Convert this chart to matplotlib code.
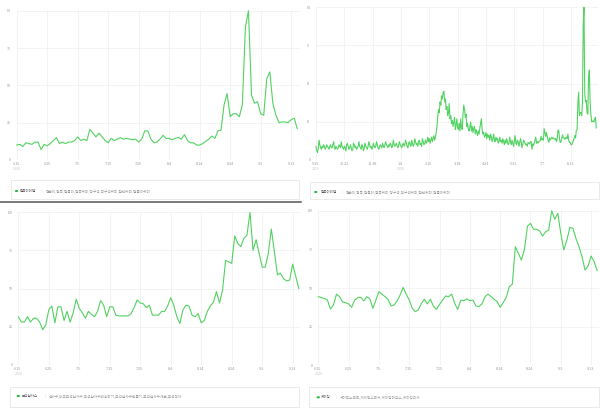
import numpy as np
import pandas as pd
import matplotlib
matplotlib.use('Agg')
import matplotlib.pyplot as plt
import matplotlib.dates as mdates
from matplotlib.patches import Rectangle, Circle
from matplotlib.lines import Line2D
from matplotlib.transforms import Bbox, TransformedBbox

plt.rcParams['font.family'] = ['Noto Sans CJK KR', 'DejaVu Sans']

# ---- data ----
home_label = '집콕아이템'
home_keywords = '집순이,집콕,집돌이,집콕취미,방구석,방구석취미,집안취미,집돌이취미'
home_recent = [
    10, 10.5, 9, 11.5, 11, 10.5, 12, 12, 7, 10.5,
    9.5, 11, 13, 15, 11, 12, 11, 12, 12, 13,
    15.5, 13, 14, 13, 20.5, 18, 15.5, 18, 15.5, 13,
    11.5, 14.5, 13, 14, 15, 14, 14.5, 14, 13.5, 14,
    12, 14, 19.5, 19.5, 14, 11.5, 12, 14, 16.5, 14.5,
    14.5, 13.5, 14.5, 15, 14, 17, 13, 11.5, 11.5, 10,
    10, 11, 12.5, 14, 16, 14.5, 19.5, 20, 37, 44.5,
    29, 31, 31, 29, 37, 89, 100, 43.5, 38, 39,
    31, 30, 54.5, 59, 38, 30, 25, 25.5, 25.5, 25,
    27, 28, 21,
]
# 2019-09-15 .. 2020-06-14, daily
home_year_early = [
    9, 6, 5, 8, 13, 10, 8,
    7, 9, 8, 10, 9, 7, 8,
    10, 9, 8, 7, 9, 10, 8,
    8, 10, 12, 8, 7, 9, 8,
    7, 8, 10, 9, 8, 12, 9,
    8, 7, 9, 8, 6, 10, 11,
    9, 7, 8, 10, 8, 6, 7,
    11, 10, 8, 9, 7, 8, 9,
    12, 9, 8, 7, 10, 9, 6,
    8, 11, 9, 8, 7, 9, 12,
    10, 8, 9, 7, 8, 11, 9,
    8, 9, 12, 10, 8, 7, 9,
    10, 9, 8, 11, 9, 8, 10,
    12, 10, 9, 8, 10, 9, 11,
    10, 8, 9, 13, 10, 9, 10,
    11, 9, 8, 10, 12, 10, 9,
    8, 10, 11, 9, 10, 13, 11,
    9, 8, 11, 12, 10, 9, 13,
    11, 9, 10, 14, 12, 10, 11,
    9, 12, 13, 10, 11, 9, 14,
    12, 10, 11, 13, 11, 12, 15,
    12, 14, 11, 13, 15, 12, 14, 16, 13, 15,
    18, 22, 28, 33, 31, 38, 36, 42, 40, 44,
    45, 38, 40, 33, 35, 29, 31, 37, 27, 29,
    24, 26, 22, 25, 28, 20, 23, 27, 21, 20,
    24, 19, 27, 21, 20, 30, 36, 33, 28, 30,
    22, 24, 20, 19, 22, 25, 19, 22, 18, 21,
    22, 17, 20, 18, 16, 19, 17, 21, 24, 27,
    20, 17, 18, 15, 16, 18, 14, 17, 15, 16,
    13, 17, 15, 12, 14, 17, 13, 12, 15, 13,
    14, 11, 12, 15, 12, 13, 11, 14, 12, 10,
    13, 11, 14, 12, 10, 11, 15, 12, 10, 13,
    11, 9, 12, 16, 11, 10, 13, 12, 9, 11,
    14, 12, 8, 10, 13, 12, 11,
]
home_year = home_year_early + home_recent

gem_label = '보석십자수'
gem_keywords = '십자수,비즈보석십자수,보석십자수배송하기,보석십자수만들기,보석십자수재료,보석액자'
gem_values = [
    31.5, 28, 28, 31.5, 28, 30.5, 30.5, 28, 23, 26,
    36, 38.5, 27.5, 38, 38, 29, 35, 28, 34, 43,
    37, 34, 30.5, 35, 33, 31.5, 35, 42, 39, 31.5,
    38, 38, 32.5, 32, 32, 32, 32, 33.5, 37.5, 42.5,
    40.5, 40, 37.5, 39, 32.5, 32.5, 32.5, 35, 35, 38.5,
    44, 39, 31.5, 27, 36, 39, 38.5, 32.5, 31.5, 33.5,
    27.5, 29, 35, 38.5, 41, 48, 40.5, 49, 68.5, 67.5,
    66.5, 84.5, 79.5, 77.5, 83, 85, 100, 75, 82, 73,
    64, 64, 73, 89, 74, 59, 60, 56.5, 55, 55.5,
    66, 58, 50,
]

game_label = '게이밍'
game_keywords = '게이밍노트북,게이밍스피커,게이밍마우스,게이밍의자'
game_values = [
    44.4, 43.8, 43.3, 42.2, 36.4, 39, 46, 44.4, 41, 40.5,
    39.7, 37.5, 42.2, 43.8, 44, 41.6, 44.4, 43, 36.9, 42.2,
    47.6, 46, 44.4, 42.7, 38.4, 39, 41.6, 45.5, 50.4, 46,
    42.2, 36.9, 34.7, 35.8, 40, 42.7, 39.7, 42.7, 38, 36.2,
    39.4, 42.2, 44.8, 44.4, 46, 40, 36.2, 42.2, 41.8, 43,
    41.8, 42.2, 38.4, 38, 39.7, 44.4, 46, 44.4, 42.7, 41.2,
    37.5, 40.5, 44, 50.9, 52.4, 76.7, 72.4, 68, 75, 90,
    91.8, 88, 88, 87, 83.6, 86.4, 87.5, 100, 94.4, 98.3,
    85.3, 74.6, 81, 89.2, 88.6, 82, 76.7, 70.3, 61.6, 64.2,
    70.7, 67, 61.2,
]

y_ticks = [0, 25, 50, 75, 100]
short_ticks = pd.date_range('2020-06-15', periods=10, freq='10D')
year_ticks = pd.date_range('2019-09-15', periods=10, freq='37D')

# ---- drawing ----
W, H = 600, 408
GREEN = '#52d261'
DOT = '#1fb83d'

fig = plt.figure(figsize=(W / 100, H / 100), dpi=100)
fig.patch.set_facecolor('white')


def panel(box, values, ticks, years, span_days, clip_x, dots):
    l, t, r, b = box
    ax = fig.add_axes([l / W, 1 - b / H, (r - l) / W, (b - t) / H])
    dates = pd.date_range(end='2020-09-15', periods=len(values))
    ax.plot(dates, values, color=GREEN, lw=0.8, clip_on=False)
    ax.set_ylim(0, 100)
    ax.set_xlim(dates[0], dates[0] + pd.Timedelta(days=span_days))
    ax.set_yticks(y_ticks)
    ax.set_yticklabels([str(v) for v in y_ticks])
    ax.set_xticks(ticks)
    ax.set_xticklabels([f'{d.month}.{d.day}' + ('.' if dots else '') for d in ticks])
    ax.grid(color='#eeeeee', lw=0.5)
    ax.set_axisbelow(True)
    for s in ax.spines.values():
        s.set_visible(False)
    ax.tick_params(axis='both', length=0, labelsize=2.7, colors='#999999')
    ax.tick_params(axis='y', pad=4)
    ax.tick_params(axis='x', pad=1.5)
    clip = TransformedBbox(Bbox.from_extents(clip_x / W, 0, 1, 1), fig.transFigure)
    for lab in ax.get_yticklabels():
        lab.set_clip_on(True)
        lab.set_clip_box(clip)
    for d in years:
        ax.annotate(str(d.year), xy=(mdates.date2num(d), 0), xycoords=('data', 'axes fraction'),
                    xytext=(0, -5.0), textcoords='offset points', ha='center', va='top',
                    fontsize=2.6, color='#c4c4c4')
    return ax


def legend(box, dot_x, label_x, bar_x, kw_x, yc, label, keywords):
    l, t, r, b = box
    fig.add_artist(Rectangle((l / W, 1 - b / H), (r - l) / W, (b - t) / H,
                             transform=fig.transFigure, facecolor='white',
                             edgecolor='#e6e6e6', lw=0.6))
    fig.add_artist(Circle((dot_x / W, 1 - yc / H), 1.6 / W, transform=fig.transFigure,
                          facecolor=DOT, edgecolor='none'))
    y = 1 - yc / H
    fig.text(label_x / W, y, label, fontsize=2.5, color='#555555', va='center', ha='left')
    fig.text(bar_x / W, y, '|', fontsize=2.5, color='#cccccc', va='center', ha='left')
    fig.text(kw_x / W, y, keywords, fontsize=2.6, color='#9a9a9a', va='center', ha='left')


panel((16.7, 10.7, 300, 160), home_recent, short_ticks, [short_ticks[0]], 92.9, 6.5, False)
panel((316, 7.3, 598, 160), home_year, year_ticks, [year_ticks[0], year_ticks[3]], 368.3, 306.8, True)
panel((18.3, 212.3, 300.3, 364.7), gem_values, short_ticks, [short_ticks[0]], 92.5, 8.0, True)
panel((318.3, 210.7, 599, 365.3), game_values, short_ticks, [short_ticks[0]], 92.6, 308.0, True)

legend((11, 180, 299, 199), 16.5, 19.5, 41.5, 46, 191, home_label, home_keywords)
legend((310, 181.5, 599, 199), 315.7, 320.5, 341.5, 346, 192, home_label, home_keywords)
legend((10, 386.7, 299, 406.7), 18.3, 21.7, 44.5, 48.3, 396, gem_label, gem_keywords)
legend((309.3, 387.3, 599, 407.3), 318.3, 320.8, 335.8, 340, 397.3, game_label, game_keywords)

# dark separator under the top-left panel
fig.add_artist(Line2D([0, 301 / W], [1 - 201.5 / H] * 2, transform=fig.transFigure,
                      color='#555555', lw=1.1))

fig.savefig('out.png', dpi=100, facecolor='white')
